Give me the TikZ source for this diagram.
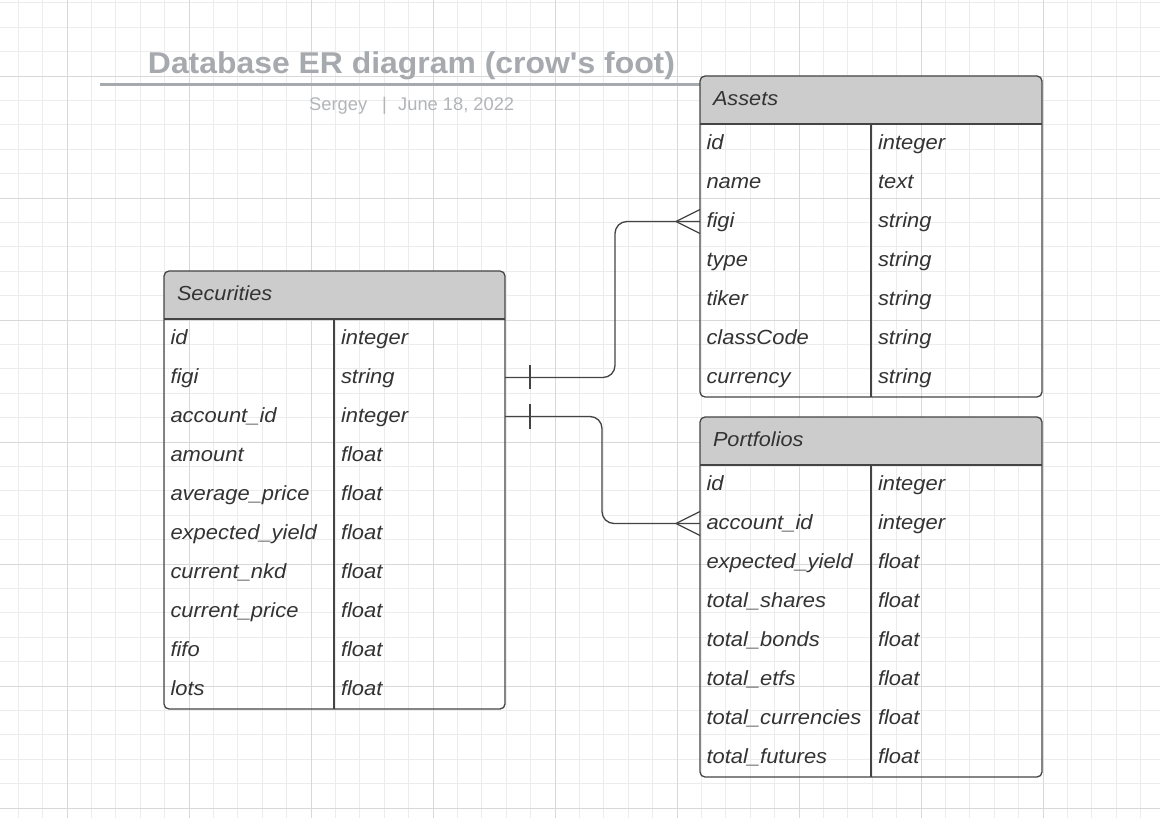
\documentclass[tikz,border=0pt]{standalone}
\usepackage{fontspec}
\setmainfont{Liberation Sans}
\newfontfamily\erfont[FakeStretch=1.07]{Liberation Sans}
\newfontfamily\titlefont[FakeStretch=1.06]{Liberation Sans}
\newfontfamily\subfont{Liberation Sans}
\usetikzlibrary{calc}
\definecolor{gridminor}{HTML}{ECECEC}
\definecolor{gridmajor}{HTML}{D8D8D8}
\definecolor{headfill}{HTML}{CCCCCC}
\definecolor{borderc}{HTML}{444444}
\definecolor{textc}{HTML}{333333}
\definecolor{titlec}{HTML}{A6A9AE}
\definecolor{subc}{HTML}{B2B4B7}
\tikzset{
  gminor/.style={draw=gridminor, line width=0.9pt},
  gmajor/.style={draw=gridmajor, line width=0.9pt},
  tablebox/.style={draw=borderc, line width=1.3pt, rounded corners=5pt, rectangle, inner sep=0pt, outer sep=0pt},
  borderline/.style={draw=borderc, line width=1.3pt},
  celltext/.style={inner sep=0pt, outer sep=0pt, text=textc, font=\erfont\itshape\fontsize{20.5}{24}\selectfont},
  headtext/.style={inner sep=0pt, outer sep=0pt, text=textc, font=\erfont\itshape\fontsize{20.3}{24}\selectfont},
  titletext/.style={inner sep=0pt, text=titlec, font=\titlefont\bfseries\fontsize{30.1}{34}\selectfont},
  subtext/.style={inner sep=0pt, text=subc, font=\subfont\fontsize{18.3}{22}\selectfont},
  titleline/.style={draw=titlec, line width=2.6pt},
  conn/.style={draw=borderc, line width=1.3pt},
}
% #1 name #2 left #3 right #4 divider #5 top #6 nrows #7 title #8 rows
\newcommand{\ertable}[8]{%
  \pgfmathsetmacro{\erbot}{#5+48+39*#6}%
  \begin{scope}
    \clip (#2-3,#5-3) rectangle (#3+3,#5+48);
    \fill[headfill, rounded corners=5pt] (#2,#5) rectangle (#3,\erbot);
  \end{scope}
  \node[tablebox, anchor=north west, minimum width={(#3-#2)*1pt}, minimum height={(\erbot-#5)*1pt}] (#1) at (#2,#5) {};
  \draw[borderline] (#2,#5+48) -- (#3,#5+48);
  \draw[borderline] (#4,#5+48) -- (#4,\erbot);
  \node[headtext, anchor=base west] (#1-title) at (#2+13,#5+29.5) {#7};
  \foreach[count=\n] \a/\b in {#8} {
    \coordinate (#1-r\n) at (#2,#5+48+39*\n-19.5);
    \node[celltext, anchor=base west] (#1-n\n) at (#2+6.5,#5+48+39*\n-13.5) {\a};
    \node[celltext, anchor=base west] (#1-t\n) at (#4+7,#5+48+39*\n-13.5) {\b};
  }
}
\begin{document}
\begin{tikzpicture}[x=1pt,y=-1pt]
\useasboundingbox (0,0) rectangle (1160,818);
\fill[white] (0,0) rectangle (1160,818);
% grid
\foreach \i in {-2,...,44} \draw[gminor] ({67+24.4*\i},0) -- ({67+24.4*\i},818);
\foreach \j in {-3,...,30} \draw[gminor] (0,{76+24.4*\j}) -- (1160,{76+24.4*\j});
\foreach \i in {0,...,8} \draw[gmajor] ({67+122*\i},0) -- ({67+122*\i},818);
\foreach \j in {0,...,6} \draw[gmajor] (0,{76+122*\j}) -- (1160,{76+122*\j});
% title
\node[titletext, anchor=base] (title) at (411.5,73.3) {Database ER diagram (crow's foot)};
\coordinate (ulA) at (100,84.5);
\coordinate (ulB) at (700,84.5);
\draw[titleline] (ulA) -- (ulB);
\node[subtext, anchor=base west] (author) at (309,110.7) {Sergey};
\node[subtext, anchor=base west] (bar) at (382,110.7) {|};
\node[subtext, anchor=base west] (date) at (398,110.7) {June 18, 2022};
% tables
\ertable{sec}{164}{505}{334}{271}{10}{Securities}{id/integer, figi/string, account\_id/integer, amount/float, average\_price/float, expected\_yield/float, current\_nkd/float, current\_price/float, fifo/float, lots/float}
\ertable{ast}{700}{1042}{871}{76}{7}{Assets}{id/integer, name/text, figi/string, type/string, tiker/string, classCode/string, currency/string}
\ertable{port}{700}{1042}{871}{417}{8}{Portfolios}{id/integer, account\_id/integer, expected\_yield/float, total\_shares/float, total\_bonds/float, total\_etfs/float, total\_currencies/float, total\_futures/float}
% connectors
\draw[conn, rounded corners=12pt] (sec.east |- sec-r2) -- ++(110,0) |- (ast.west |- ast-r3);
\draw[conn, rounded corners=12pt] (sec.east |- sec-r3) -- ++(97,0) |- (port.west |- port-r2);
% one marks
\draw[conn] ($(sec.east |- sec-r2)+(25,-12)$) -- ($(sec.east |- sec-r2)+(25,12)$);
\draw[conn] ($(sec.east |- sec-r3)+(25,-12)$) -- ($(sec.east |- sec-r3)+(25,12)$);
% crow's feet
\draw[conn] ($(ast.west |- ast-r3)+(0,-12)$) -- ($(ast.west |- ast-r3)+(-24,0)$) -- ($(ast.west |- ast-r3)+(0,12)$);
\draw[conn] ($(port.west |- port-r2)+(0,-12)$) -- ($(port.west |- port-r2)+(-24,0)$) -- ($(port.west |- port-r2)+(0,12)$);
\end{tikzpicture}
\end{document}
